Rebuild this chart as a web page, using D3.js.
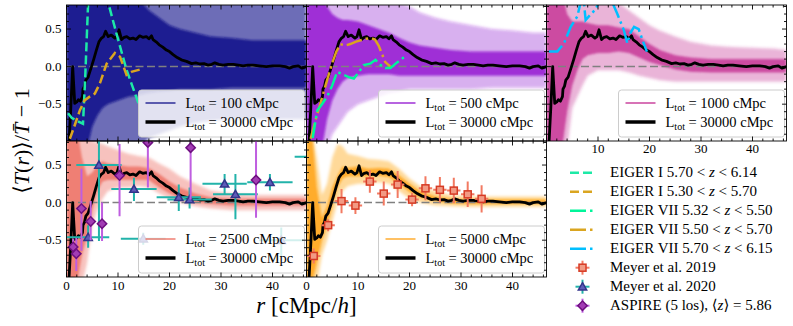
<!DOCTYPE html>
<html>
<head>
<meta charset="utf-8">
<title>Transmission profile around galaxies</title>
<script src="https://d3js.org/d3.v7.min.js"></script>
<style>
  body { margin: 0; background: #fff; }
  svg text { font-family: "Liberation Serif", "DejaVu Serif", "Noto Serif", serif; fill: #000; }
</style>
</head>
<body>
<div id="chart"></div>
<script>
// ---- data ----
// mean profile of the 30000 cMpc box (black line, same in every panel)
var meanR = [0.5, 0.8, 1.2, 1.6, 2.0, 2.3, 2.7, 3.1, 3.2, 3.5, 3.75, 4.2, 4.85, 5.3, 5.8, 6.3, 6.8, 7.2, 7.6, 8.1, 8.7, 9.4, 9.8, 10.2, 10.7, 11.2, 11.7, 12.3, 12.9, 13.5, 14.2, 14.8, 15.5, 16.0, 16.5, 16.8, 17.4, 18.0, 18.7, 19.4, 20.0, 20.7, 21.5, 22.3, 23.3, 24.3, 25.1, 25.9, 26.7, 27.5, 28.2, 28.8, 29.6, 30.4, 31.4, 32.4, 33.4, 34.3, 35.2, 36.2, 37.4, 38.8, 40.0, 41.4, 42.5, 43.3, 44.0, 45.0, 45.7, 46.6];
var meanV = [-1.0, -0.6, 0.0, -0.49, -0.47, -0.44, -0.46, -0.4, -0.3, -0.26, -0.18, -0.14, 0.0, 0.1, 0.22, 0.33, 0.38, 0.4, 0.47, 0.4, 0.42, 0.38, 0.4, 0.49, 0.36, 0.39, 0.4, 0.37, 0.38, 0.36, 0.41, 0.39, 0.4, 0.37, 0.41, 0.36, 0.33, 0.29, 0.26, 0.22, 0.2, 0.16, 0.12, 0.09, 0.07, 0.04, 0.05, 0.035, 0.04, 0.02, 0.03, 0.05, 0.03, 0.02, 0.03, 0.03, 0.02, 0.01, 0.02, 0.02, 0.01, 0.0, 0.01, 0.01, 0.0, -0.02, 0.0, 0.01, -0.02, 0.0];

// spread of the realisations of the smaller boxes (outer extent and dense core)
var bandR = [0, 1, 2, 3, 4, 5, 6, 7, 8, 10, 12, 14, 16, 18, 20, 22, 25, 28, 32, 36, 40, 44, 46.6];

var l100OuterLo = [-1.1, -1.1, -1.1, -1.1, -1.1, -1.1, -1.1, -1.1, -1.1, -1.1, -1.1, -1.1, -0.95, -0.9, -0.85, -0.8, -0.75, -0.72, -0.7, -0.7, -0.7, -0.7, -0.7];
var l100OuterHi = [1, 1, 1, 1, 1, 1, 1, 1, 1, 1, 1, 1, 1, 1, 1, 1, 1, 1, 1, 1, 1, 1, 1];
var l100CoreLo = [-1.1, -1.1, -1.1, -1.1, -1.1, -0.8, -0.65, -0.55, -0.5, -0.45, -0.4, -0.38, -0.35, -0.33, -0.32, -0.3, -0.3, -0.3, -0.28, -0.28, -0.28, -0.28, -0.28];
var l100CoreHi = [1, 1, 1, 1, 1, 1, 1, 1, 1, 1, 1, 0.9, 0.75, 0.65, 0.55, 0.5, 0.45, 0.4, 0.38, 0.35, 0.35, 0.35, 0.35];

var l500OuterLo = [-1.1, -1.1, -1.1, -1.1, -1.1, -0.9, -0.8, -0.7, -0.6, -0.5, -0.45, -0.4, -0.35, -0.33, -0.3, -0.3, -0.3, -0.3, -0.3, -0.28, -0.28, -0.28, -0.28];
var l500OuterHi = [1, 1, 1, 1, 1, 1, 1, 1, 1, 1, 1, 1, 0.95, 0.85, 0.8, 0.72, 0.65, 0.6, 0.55, 0.5, 0.48, 0.45, 0.45];
var l500CoreLo = [-1.1, -1.1, -1.1, -1.1, -0.7, -0.45, -0.3, -0.2, -0.15, -0.12, -0.1, -0.1, -0.1, -0.12, -0.12, -0.12, -0.12, -0.12, -0.12, -0.12, -0.12, -0.12, -0.12];
var l500CoreHi = [1, 1, 1, 1, 0.8, 0.7, 0.65, 0.62, 0.62, 0.6, 0.55, 0.5, 0.45, 0.38, 0.32, 0.28, 0.25, 0.22, 0.2, 0.2, 0.2, 0.2, 0.2];

var l1000OuterLo = [-1.1, -1.1, -1.1, -1.1, -1.1, -0.55, -0.4, -0.25, -0.12, -0.05, -0.05, -0.05, -0.08, -0.12, -0.15, -0.18, -0.2, -0.2, -0.2, -0.2, -0.2, -0.2, -0.2];
var l1000OuterHi = [1, 1, 1, 1, 1, 1, 1, 1, 1, 1, 1, 0.85, 0.75, 0.65, 0.55, 0.48, 0.4, 0.33, 0.28, 0.26, 0.25, 0.24, 0.22];
var l1000CoreLo = [-1.1, -1.1, -1.1, -1.1, -0.6, -0.25, -0.05, 0.1, 0.15, 0.18, 0.18, 0.2, 0.18, 0.12, 0.06, 0.02, -0.04, -0.07, -0.08, -0.08, -0.08, -0.08, -0.08];
var l1000CoreHi = [1, 1, 1, 1, 0.7, 0.6, 0.6, 0.6, 0.58, 0.55, 0.55, 0.52, 0.5, 0.4, 0.3, 0.22, 0.15, 0.12, 0.1, 0.1, 0.1, 0.1, 0.1];

var l2500OuterLo = [-1.1, -1.1, -1.1, -1.1, -0.8, -0.3, -0.1, 0.05, 0.15, 0.2, 0.2, 0.22, 0.2, 0.12, 0.05, 0.0, -0.05, -0.08, -0.1, -0.1, -0.1, -0.1, -0.1];
var l2500OuterHi = [1, 1, 1, 1, 0.9, 0.82, 0.8, 0.78, 0.75, 0.7, 0.65, 0.62, 0.6, 0.52, 0.45, 0.35, 0.25, 0.16, 0.12, 0.1, 0.1, 0.1, 0.1];
var l2500CoreLo = [-1.1, -1.1, -1.1, -0.7, -0.45, -0.1, 0.15, 0.28, 0.3, 0.3, 0.3, 0.3, 0.3, 0.2, 0.12, 0.06, 0.0, -0.02, -0.04, -0.04, -0.04, -0.04, -0.04];
var l2500CoreHi = [1, 1, 1, 0.6, 0.35, 0.4, 0.5, 0.55, 0.52, 0.5, 0.48, 0.48, 0.46, 0.38, 0.28, 0.2, 0.12, 0.07, 0.05, 0.05, 0.05, 0.05, 0.05];

var l5000OuterLo = [-1.1, -1.1, -1.1, -0.7, -0.5, -0.25, 0.0, 0.15, 0.22, 0.25, 0.25, 0.27, 0.25, 0.15, 0.05, 0.0, -0.04, -0.05, -0.06, -0.06, -0.06, -0.06, -0.06];
var l5000OuterHi = [1, 1, 0.6, 0.1, 0.25, 0.6, 0.78, 0.75, 0.65, 0.62, 0.58, 0.57, 0.55, 0.45, 0.32, 0.22, 0.15, 0.1, 0.08, 0.08, 0.08, 0.08, 0.08];
var l5000CoreLo = [-1.1, -1.1, -0.8, -0.5, -0.3, -0.05, 0.2, 0.32, 0.35, 0.35, 0.35, 0.36, 0.34, 0.25, 0.14, 0.07, 0.02, -0.01, -0.02, -0.02, -0.02, -0.02, -0.02];
var l5000CoreHi = [1, 1, 0.2, -0.2, -0.05, 0.2, 0.35, 0.48, 0.46, 0.48, 0.45, 0.46, 0.45, 0.36, 0.25, 0.15, 0.08, 0.05, 0.04, 0.04, 0.04, 0.04, 0.04];

// EIGER curves
var eigerI1R = [0.3, 1, 2, 3.2, 3.6, 4.2, 5.5, 7, 8.1, 9.7, 11.65, 14.2];
var eigerI1V = [-0.62, -0.68, -0.72, -0.76, -0.2, 0.85, 1.3, 1.3, 0.85, 0.44, -0.04, -0.53];
var eigerI2R = [0.65, 1.5, 2.6, 3.5, 4.5, 5.5, 6.5, 7.8, 9.4, 10.4, 11.65, 12.6, 14.2];
var eigerI2V = [-0.96, -0.8, -0.58, -0.45, -0.4, -0.36, -0.22, 0.04, 0.18, 0.13, -0.11, -0.07, -0.04];
var eigerVII1R = [1.2, 2.1, 3, 4, 5, 5.95, 7.2, 8.2, 9.2, 10.2, 11.1, 12.4, 13.4, 14.4, 15.3, 16.3, 17.3, 18.3, 19.5];
var eigerVII1V = [-0.95, -0.58, -0.5, -0.4, -0.25, -0.07, -0.11, -0.14, -0.16, -0.07, 0.02, 0.04, 0.09, 0.02, -0.02, -0.02, 0.04, 0.09, 0.16];
var eigerVII2R = [0.8, 1.8, 2.7, 4, 5, 5.8, 6.6, 7.5, 8.5, 9.5, 10.5, 11.5, 12.5, 13.3, 14.0, 14.6, 15.3, 16.3];
var eigerVII2V = [-0.96, -0.7, -0.49, -0.18, 0.05, 0.2, 0.3, 0.28, 0.3, 0.33, 0.35, 0.37, 0.38, 0.36, 0.28, 0.18, 0.06, 0.0];
var eigerVII3R = [0.45, 2.1, 3.4, 4.7, 6, 6.6, 7.2, 7.6, 8.5, 9.5, 10.5, 11.5, 12.5, 13.7, 15, 15.7, 16.3, 17, 17.9, 18.6, 19.5];
var eigerVII3V = [0.2, 0.2, 0.31, 0.53, 0.67, 0.85, 0.9, 0.62, 0.69, 0.76, 0.9, 0.95, 0.9, 0.71, 0.49, 0.31, 0.45, 0.53, 0.5, 0.36, 0.2];

// observations
var m19R = [1.4, 4.2, 6.8, 9.5, 12.3, 15.0, 17.7, 20.5, 23.1, 25.9, 28.6, 31.3, 34.0];
var m19V = [-0.71, -0.3, 0.02, -0.04, 0.28, 0.12, 0.24, 0.04, 0.19, 0.17, 0.16, 0.11, 0.05];
var m19YErr = [0.1, 0.08, 0.16, 0.11, 0.15, 0.16, 0.18, 0.09, 0.16, 0.17, 0.17, 0.17, 0.18];
var m19XErr = [1.3, 1.3, 1.3, 1.3, 1.3, 1.3, 1.3, 1.3, 1.3, 1.3, 1.3, 1.3, 1.3];

var m20R = [4.2, 6.3, 13.1, 14.9, 21.8, 23.9, 30.7, 32.8, 39.5, 41.7, 48.6];
var m20V = [-0.46, 0.5, 0.18, -0.48, 0.07, 0.04, 0.25, 0.11, 0.27, -0.5, 0.61];
var m20XErr = [4.1, 4.4, 4.4, 4.35, 4.3, 4.3, 4.3, 4.35, 4.4, 4.3, 4.3];
var m20Lo = [-0.6, -0.51, 0.02, -0.56, -0.11, -0.08, 0.11, -0.22, 0.16, -0.71, 0.51];
var m20Hi = [-0.3, 1.0, 0.33, -0.4, 0.24, 0.2, 0.38, 0.38, 0.38, -0.33, 0.71];

var aspR = [1.3, 1.9, 2.9, 4.7, 6.9, 10.3, 15.8, 24.1, 36.8];
var aspV = [-0.59, -0.68, -0.08, -0.25, -0.28, 0.36, 0.8, 0.73, 0.3];
var aspLo = [-0.7, -0.91, -0.64, -0.5, -0.51, -0.18, 0.2, 0.04, -0.2];
var aspHi = [-0.48, -0.47, 0.45, 0.02, 0.0, 0.78, 1.3, 1.3, 0.82];

var xMajor = [0, 10, 20, 30, 40];
var yMajor = [-0.5, 0, 0.5];
var yTickText = ["\u22120.5", "0.0", "0.5"];

// ---- layout ----
var W = 793, H = 326;
var colLeft = [66.5, 306.5, 546.5], rowTop = [5, 141];
var pw = 240, ph = 136;

var x = d3.scaleLinear().domain([0, 46.6]).range([0, pw]);
var y = d3.scaleLinear().domain([-0.99, 0.82]).range([ph, 0]);

function zip(r, v) { return r.map(function(d, i) { return [d, v[i]]; }); }
function band(lo, hi) { return bandR.map(function(d, i) { return {r: d, lo: lo[i], hi: hi[i]}; }); }

var panels = [
  {col: 0, row: 0, L: "100", color: "#10108a", outer: band(l100OuterLo, l100OuterHi), core: band(l100CoreLo, l100CoreHi), oOp: 0.62, cOp: 0.85, xt: null, yt: true,
   eiger: [[eigerI1R, eigerI1V, "#1de9a6", "dash"], [eigerI2R, eigerI2V, "#daa520", "dash"]]},
  {col: 1, row: 0, L: "500", color: "#9010d0", outer: band(l500OuterLo, l500OuterHi), core: band(l500CoreLo, l500CoreHi), oOp: 0.35, cOp: 0.8, xt: null, yt: false,
   eiger: [[eigerVII2R, eigerVII2V, "#daa520", "dashdot"], [eigerVII1R, eigerVII1V, "#00f59a", "dashdot"]]},
  {col: 2, row: 0, L: "1000", color: "#c2288f", outer: band(l1000OuterLo, l1000OuterHi), core: band(l1000CoreLo, l1000CoreHi), oOp: 0.35, cOp: 0.75, xt: [10, 20, 30, 40], yt: false,
   eiger: [[eigerVII3R, eigerVII3V, "#00bfff", "dashdot"]]},
  {col: 0, row: 1, L: "2500", color: "#ec6a5c", outer: band(l2500OuterLo, l2500OuterHi), core: band(l2500CoreLo, l2500CoreHi), oOp: 0.4, cOp: 0.75, xt: xMajor, yt: true,
   eiger: []},
  {col: 1, row: 1, L: "5000", color: "#ffa010", outer: band(l5000OuterLo, l5000OuterHi), core: band(l5000CoreLo, l5000CoreHi), oOp: 0.4, cOp: 0.8, xt: xMajor, yt: false,
   eiger: []}
];

var dashes = {dash: "9,4", dashdot: "16,4,2.5,4"};
var col19 = {bar: "#f27a62", edge: "#d63a24", face: "#f29a84"};
var col20 = {bar: "#22b3aa", edge: "#33338a", face: "#5c5cb8"};
var colAsp = {bar: "#bf5ee0", edge: "#6e0f80", face: "#a23cb4"};

var svg = d3.select("#chart").append("svg")
  .attr("width", W).attr("height", H)
  .attr("font-family", "'Liberation Serif', 'DejaVu Serif', serif")
  .style("background", "#fff");

// soft edges for the realisation spread
var defs = svg.append("defs");
defs.append("filter").attr("id", "soft").attr("x", "-10%").attr("y", "-10%").attr("width", "120%").attr("height", "120%")
  .append("feGaussianBlur").attr("stdDeviation", 1.6);
defs.append("filter").attr("id", "softer").attr("x", "-10%").attr("y", "-10%").attr("width", "120%").attr("height", "120%")
  .append("feGaussianBlur").attr("stdDeviation", 1);

var area = d3.area().x(function(d) { return x(d.r); }).y0(function(d) { return y(d.lo); }).y1(function(d) { return y(d.hi); });
var line = d3.line().x(function(d) { return x(d[0]); }).y(function(d) { return y(d[1]); });

function errPoints(g, R, V, lo, hi, xe, c, sym) {
  R.forEach(function(r, i) {
    var cx = x(r), cy = y(V[i]);
    if (xe) g.append("line").attr("x1", x(r - xe[i])).attr("x2", x(r + xe[i])).attr("y1", cy).attr("y2", cy)
      .attr("stroke", c.bar).attr("stroke-width", 2);
    g.append("line").attr("x1", cx).attr("x2", cx).attr("y1", y(lo[i])).attr("y2", y(hi[i]))
      .attr("stroke", c.bar).attr("stroke-width", 2);
  });
  R.forEach(function(r, i) {
    drawMarker(g, x(r), y(V[i]), sym, c);
  });
}

function drawMarker(g, cx, cy, sym, c) {
  if (sym === "square") {
    g.append("rect").attr("x", cx - 3.5).attr("y", cy - 3.5).attr("width", 7).attr("height", 7)
      .attr("fill", c.face).attr("stroke", c.edge).attr("stroke-width", 1.5);
  } else if (sym === "triangle") {
    g.append("path").attr("transform", "translate(" + cx + "," + (cy + 0.8) + ")")
      .attr("d", d3.symbol().type(d3.symbolTriangle).size(30)())
      .attr("fill", c.face).attr("stroke", c.edge).attr("stroke-width", 1.5);
  } else {
    g.append("rect").attr("x", -3.3).attr("y", -3.3).attr("width", 6.6).attr("height", 6.6)
      .attr("transform", "translate(" + cx + "," + cy + ") rotate(45)")
      .attr("fill", c.face).attr("stroke", c.edge).attr("stroke-width", 1.5);
  }
}

panels.forEach(function(p, k) {
  var g = svg.append("g").attr("transform", "translate(" + colLeft[p.col] + "," + rowTop[p.row] + ")");
  g.append("clipPath").attr("id", "clip" + k).append("rect").attr("width", pw).attr("height", ph);
  var c = g.append("g").attr("clip-path", "url(#clip" + k + ")");

  c.append("path").datum(p.outer).attr("d", area).attr("fill", p.color).attr("fill-opacity", p.oOp).attr("filter", "url(#soft)");
  c.append("path").datum(p.core).attr("d", area).attr("fill", p.color).attr("fill-opacity", p.cOp).attr("filter", "url(#softer)");

  c.append("line").attr("x1", 0).attr("x2", pw).attr("y1", y(0)).attr("y2", y(0))
    .attr("stroke", "#808080").attr("stroke-width", 1.5).attr("stroke-dasharray", "8,3.5");

  c.append("path").datum(zip(meanR, meanV)).attr("d", line)
    .attr("fill", "none").attr("stroke", "#000").attr("stroke-width", 2.8).attr("stroke-linejoin", "round");

  p.eiger.forEach(function(e) {
    c.append("path").datum(zip(e[0], e[1])).attr("d", line)
      .attr("fill", "none").attr("stroke", e[2]).attr("stroke-width", 2.5).attr("stroke-dasharray", dashes[e[3]]);
  });

  if (k === 3) {
    errPoints(c, m20R, m20V, m20Lo, m20Hi, m20XErr, col20, "triangle");
    errPoints(c, aspR, aspV, aspLo, aspHi, null, colAsp, "diamond");
  }
  if (k === 4) {
    var lo = m19R.map(function(d, i) { return m19V[i] - m19YErr[i]; });
    var hi = m19R.map(function(d, i) { return m19V[i] + m19YErr[i]; });
    errPoints(c, m19R, m19V, lo, hi, m19XErr, col19, "square");
  }

  // legend box inside panel
  var lg = g.append("g").attr("transform", "translate(72," + (ph - 51) + ")");
  lg.append("rect").attr("width", pw - 74).attr("height", 47).attr("rx", 3)
    .attr("fill", "#fff").attr("fill-opacity", 0.8).attr("stroke", "#ccc").attr("stroke-width", 1);
  [[p.color, 1.3, p.L], ["#000", 3.5, "30000"]].forEach(function(it, j) {
    var yy = 13 + j * 19;
    lg.append("line").attr("x1", 7).attr("x2", 37).attr("y1", yy).attr("y2", yy)
      .attr("stroke", it[0]).attr("stroke-width", it[1]);
    var t = lg.append("text").attr("x", 47).attr("y", yy + 4.5).attr("font-size", 14.5);
    t.append("tspan").text("L");
    t.append("tspan").attr("font-size", 10).attr("dy", 3).text("tot");
    t.append("tspan").attr("dy", -3).text(" = " + it[2] + " cMpc");
  });

  // frame and ticks (inward, all sides)
  var ax = g.append("g").attr("stroke", "#000").attr("stroke-width", 0.9);
  ax.append("rect").attr("width", pw).attr("height", ph).attr("fill", "none");
  d3.range(0, 47, 2).forEach(function(v) {
    var len = v % 10 === 0 ? 4.5 : 2.5;
    ax.append("line").attr("x1", x(v)).attr("x2", x(v)).attr("y1", ph).attr("y2", ph - len);
    ax.append("line").attr("x1", x(v)).attr("x2", x(v)).attr("y1", 0).attr("y2", len);
  });
  d3.range(-9, 9).forEach(function(n) {
    var v = n / 10, len = n % 5 === 0 ? 4.5 : 2.5;
    ax.append("line").attr("x1", 0).attr("x2", len).attr("y1", y(v)).attr("y2", y(v));
    ax.append("line").attr("x1", pw).attr("x2", pw - len).attr("y1", y(v)).attr("y2", y(v));
  });

  if (p.yt) {
    yMajor.forEach(function(v, i) {
      g.append("text").attr("x", -5).attr("y", y(v) + 4).attr("text-anchor", "end")
        .attr("font-size", 13).text(yTickText[i]);
    });
  }
  if (p.xt) {
    p.xt.forEach(function(v) {
      g.append("text").attr("x", x(v)).attr("y", ph + (p.row === 0 ? 11.5 : 13)).attr("text-anchor", "middle")
        .attr("font-size", 13).text(v);
    });
  }
});

// axis titles
var yl = svg.append("text").attr("transform", "translate(29,141) rotate(-90)")
  .attr("text-anchor", "middle").attr("font-size", 22);
yl.append("tspan").text("\u27E8");
yl.append("tspan").attr("font-style", "italic").text("T");
yl.append("tspan").text("(");
yl.append("tspan").attr("font-style", "italic").text("r");
yl.append("tspan").text(")\u27E9/");
yl.append("tspan").attr("font-style", "italic").text("T\u0304");
yl.append("tspan").text(" \u2212 1");

var xl = svg.append("text").attr("x", 306.5).attr("y", 313).attr("text-anchor", "middle").attr("font-size", 23);
xl.append("tspan").attr("font-style", "italic").text("r");
xl.append("tspan").text(" [cMpc/");
xl.append("tspan").attr("font-style", "italic").text("h");
xl.append("tspan").text("]");

// shared legend in the empty lower-right slot
var legendLines = [
  ["#1de9a6", "dash", "EIGER I 5.70 < ", " < 6.14"],
  ["#daa520", "dash", "EIGER I 5.30 < ", " < 5.70"],
  ["#00f59a", "dashdot", "EIGER VII 5.32 < ", " < 5.50"],
  ["#daa520", "dashdot", "EIGER VII 5.50 < ", " < 5.70"],
  ["#00bfff", "dashdot", "EIGER VII 5.70 < ", " < 6.15"]
];
var legendMarks = [
  [col19, "square", "Meyer et al. 2019"],
  [col20, "triangle", "Meyer et al. 2020"],
  [colAsp, "diamond", "ASPIRE (5 los), \u27E8"]
];
var lgx = 570, lgy = 172.7, lstep = 19;
legendLines.forEach(function(d, i) {
  var yy = lgy + i * lstep;
  svg.append("line").attr("x1", lgx).attr("x2", lgx + 25).attr("y1", yy).attr("y2", yy)
    .attr("stroke", d[0]).attr("stroke-width", 2.5).attr("stroke-dasharray", d[1] === "dash" ? "9,4" : "16,4,2.5,4");
  var t = svg.append("text").attr("x", lgx + 40).attr("y", yy + 4.5).attr("font-size", 15);
  t.append("tspan").text(d[2]);
  t.append("tspan").attr("font-style", "italic").text("z");
  t.append("tspan").text(d[3]);
});
legendMarks.forEach(function(d, i) {
  var yy = lgy + (i + 5) * lstep, cx = lgx + 12.5;
  var g = svg.append("g");
  g.append("line").attr("x1", cx - 7).attr("x2", cx + 7).attr("y1", yy).attr("y2", yy).attr("stroke", d[0].bar).attr("stroke-width", 2);
  g.append("line").attr("x1", cx).attr("x2", cx).attr("y1", yy - 7).attr("y2", yy + 7).attr("stroke", d[0].bar).attr("stroke-width", 2);
  drawMarker(g, cx, yy, d[1], d[0]);
  var t = svg.append("text").attr("x", lgx + 40).attr("y", yy + 4.5).attr("font-size", 15);
  t.append("tspan").text(d[2]);
  if (d[1] === "diamond") {
    t.append("tspan").attr("font-style", "italic").text("z");
    t.append("tspan").text("\u27E9 = 5.86");
  }
});
</script>
</body>
</html>
